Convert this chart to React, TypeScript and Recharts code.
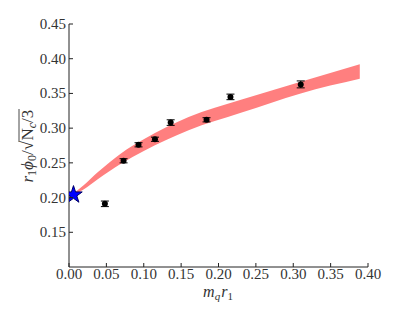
import React from "react";
import { ComposedChart, Area, Scatter, ErrorBar, XAxis, YAxis, Symbols } from "recharts";

// lattice points: m_q r_1, r_1 phi_0 / sqrt(Nc/3), error
const pointX = [0.048, 0.073, 0.093, 0.115, 0.136, 0.184, 0.216, 0.31];
const pointY = [0.191, 0.253, 0.276, 0.284, 0.308, 0.312, 0.345, 0.363];
const pointErr = [0.004, 0.003, 0.003, 0.003, 0.004, 0.003, 0.004, 0.005];

// chiral limit (star)
const starX = [0.006];
const starY = [0.204];

// fit band (lower / upper edge)
const bandX = [0.006, 0.02, 0.038, 0.07, 0.1, 0.16, 0.23, 0.31, 0.389];
const bandLo = [0.204, 0.212, 0.226, 0.249, 0.267, 0.297, 0.322, 0.35, 0.371];
const bandHi = [0.206, 0.218, 0.236, 0.264, 0.284, 0.316, 0.341, 0.367, 0.392];

const xTicks = [0, 0.05, 0.1, 0.15, 0.2, 0.25, 0.3, 0.35, 0.4];
const yTicks = [0.15, 0.2, 0.25, 0.3, 0.35, 0.4, 0.45];

const bandData = bandX.map((x, i) => ({ x, band: [bandLo[i], bandHi[i]] }));
const points = pointX.map((x, i) => ({ x, y: pointY[i], err: pointErr[i] }));
const star = starX.map((x, i) => ({ x, y: starY[i] }));

const FONT = "'Liberation Serif', serif";
const INK = "#222";
const TXT = "#333";

const BottomTick = (props: any) => {
  const { x, y, payload } = props;
  return (
    <g>
      <line x1={x} x2={x} y1={y - 6} y2={y - 10} stroke={INK} />
      <text x={x} y={y} dy={6} textAnchor="middle" fontFamily={FONT} fontSize={15} fill={TXT}>
        {payload.value.toFixed(2)}
      </text>
    </g>
  );
};

const LeftTick = (props: any) => {
  const { x, y, payload } = props;
  return (
    <g>
      <line x1={x + 6} x2={x + 10} y1={y} y2={y} stroke={INK} />
      <text x={x + 3} y={y} dy={5} textAnchor="end" fontFamily={FONT} fontSize={15} fill={TXT}>
        {payload.value.toFixed(2)}
      </text>
    </g>
  );
};

const TopTick = (props: any) => {
  const { x, y } = props;
  return <line x1={x} x2={x} y1={y} y2={y + 4} stroke={INK} />;
};

const RightTick = (props: any) => {
  const { x, y } = props;
  return <line x1={x - 4} x2={x} y1={y} y2={y} stroke={INK} />;
};

const Dot = (props: any) => <circle cx={props.cx} cy={props.cy} r={3} fill="#000" />;

const StarShape = (props: any) => (
  <Symbols cx={props.cx} cy={props.cy} type="star" size={95} fill="#0000ff" stroke="#000066" strokeWidth={1} />
);

const XLabel = () => (
  <text x={218} y={297} textAnchor="middle" fontFamily={FONT} fontSize={16} fill={TXT}>
    <tspan fontStyle="italic">m</tspan>
    <tspan fontStyle="italic" fontSize={11} dy={3}>q</tspan>
    <tspan fontStyle="italic" dx={1} dy={-3}>r</tspan>
    <tspan fontSize={11} dy={3}>1</tspan>
  </text>
);

const YLabel = () => (
  <g transform="translate(33,146) rotate(-90)" fontFamily={FONT} fontSize={17} fill={TXT}>
    <text x={5} y={0} textAnchor="end">
      <tspan fontStyle="italic">r</tspan>
      <tspan fontSize={12} dy={3}>1</tspan>
      <tspan fontStyle="italic" dy={-3}>ϕ</tspan>
      <tspan fontSize={12} dy={3}>0</tspan>
      <tspan dy={-3}>/√</tspan>
    </text>
    <text x={5.5} y={0} textAnchor="start">
      <tspan>N</tspan>
      <tspan fontStyle="italic" fontSize={12} dy={3}>c</tspan>
      <tspan dy={-3}>/3</tspan>
    </text>
    <line x1={4} x2={37} y1={-14} y2={-14} stroke={TXT} strokeWidth={0.9} />
  </g>
);

const App = () => {
  return (
    <div style={{ position: "fixed", left: 0, top: 0, width: 399, height: 319, background: "#fff" }}>
      <ComposedChart
        width={399}
        height={319}
        data={bandData}
        margin={{ top: 24, right: 31, bottom: 22, left: 9 }}
      >
        <XAxis
          xAxisId="b"
          dataKey="x"
          type="number"
          domain={[0, 0.4]}
          ticks={xTicks}
          allowDataOverflow
          height={30}
          tickSize={0}
          tickMargin={6}
          tick={<BottomTick />}
          axisLine={{ stroke: INK }}
          label={{ content: () => <XLabel /> }}
        />
        <XAxis
          xAxisId="t"
          orientation="top"
          dataKey="x"
          type="number"
          domain={[0, 0.4]}
          ticks={xTicks}
          allowDataOverflow
          height={0}
          tickSize={0}
          tickMargin={0}
          tick={<TopTick />}
          axisLine={{ stroke: INK }}
        />
        <YAxis
          yAxisId="l"
          type="number"
          domain={[0.1, 0.45]}
          ticks={yTicks}
          allowDataOverflow
          width={60}
          tickSize={0}
          tickMargin={6}
          tick={<LeftTick />}
          axisLine={{ stroke: INK }}
          label={{ content: () => <YLabel /> }}
        />
        <YAxis
          yAxisId="r"
          orientation="right"
          type="number"
          domain={[0.1, 0.45]}
          ticks={yTicks}
          allowDataOverflow
          width={0}
          tickSize={0}
          tickMargin={0}
          tick={<RightTick />}
          axisLine={{ stroke: INK }}
        />
        <Area
          xAxisId="b"
          yAxisId="l"
          dataKey="band"
          type="monotone"
          stroke="none"
          fill="#ff7f7f"
          fillOpacity={1}
          isAnimationActive={false}
        />
        <Scatter
          xAxisId="b"
          yAxisId="l"
          data={points}
          dataKey="y"
          fill="#000"
          shape={<Dot />}
          isAnimationActive={false}
        >
          <ErrorBar dataKey="err" direction="y" width={4} stroke="#000" strokeWidth={1} />
        </Scatter>
        <Scatter
          xAxisId="b"
          yAxisId="l"
          data={star}
          dataKey="y"
          shape={<StarShape />}
          isAnimationActive={false}
        />
      </ComposedChart>
    </div>
  );
};

export default App;
